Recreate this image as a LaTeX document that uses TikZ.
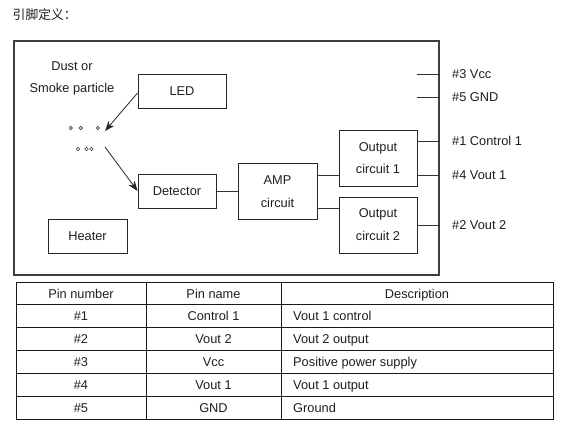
\documentclass[tikz,border=0pt]{standalone}
\usepackage{fontspec}
\setmainfont{Liberation Sans}
\newfontfamily\cjk{Noto Sans CJK SC}
\usetikzlibrary{arrows.meta}
\begin{document}
\begin{tikzpicture}[x=1pt,y=-1pt,
  every node/.style={font=\fontsize{12.8}{22}\selectfont, text=black!88},
  blk/.style={draw=black!85, line width=0.9pt, rectangle, inner sep=0pt, align=center},
  wire/.style={draw=black!80, line width=0.9pt},
  arr/.style={draw=black!85, line width=0.8pt, -{Stealth[length=10pt,width=7.5pt,inset=3pt]}},
  dot/.style={draw=black!80, line width=0.6pt},
  pinlbl/.style={anchor=west, inner sep=0pt, text height=9.2pt, text depth=0pt},
  grid/.style={draw=black!90, line width=0.9pt},
  cell/.style={inner sep=0pt, text height=9.2pt, text depth=0pt}]
\useasboundingbox (0,0) rectangle (584,435);
\fill[white] (0,0) rectangle (584,435);

% title
\node[anchor=west, inner sep=0pt, font=\cjk\fontsize{12.8}{14}\selectfont] (title) at (12.5,15) {引脚定义：};

% main box
\node[draw=black!75, line width=1.1pt, rectangle, inner sep=0pt, minimum width=425pt, minimum height=234pt] (main) at (226.5,158) {};

% labels
\node[cell] (dust) at (72,66) {Dust or};
\node[cell] (smoke) at (72,88) {Smoke particle};

% blocks
\node[blk, minimum width=88pt, minimum height=34pt] (LED) at (182,91) {LED};
\node[blk, minimum width=78pt, minimum height=34pt] (det) at (177,191) {Detector};
\node[blk, minimum width=79pt, minimum height=56pt, font=\fontsize{12.8}{23}\selectfont] (amp) at (277.5,191.5) {AMP\\circuit};
\node[blk, minimum width=78pt, minimum height=56pt, font=\fontsize{12.8}{22}\selectfont] (oc1) at (378,158) {Output\\circuit 1};
\node[blk, minimum width=78pt, minimum height=56pt, font=\fontsize{12.8}{23}\selectfont] (oc2) at (378,225) {Output\\circuit 2};
\node[blk, minimum width=79pt, minimum height=34pt] (heater) at (87.5,236) {Heater};

% particles
\foreach \x/\y in {70.7/128, 80.7/128, 97.7/128, 78/149, 86.5/149, 91.5/149}
  \draw[dot] (\x,\y) circle (1.7pt);

% arrows
\coordinate (d1) at (105,131);
\coordinate (d2) at (105,147);
\draw[arr] (LED.west |- 0,93) -- (d1);
\draw[arr] (d2) -- (det.west);

% pin points on the box edge
\coordinate (p3) at (439,74);
\coordinate (p5) at (439,97);
\coordinate (p1) at (439,141);
\coordinate (p4) at (439,175);
\coordinate (p2) at (439,225);

% wires
\draw[wire] (det.east) -- (amp.west |- det.east);
\draw[wire] (amp.east |- p4) -- (oc1.west |- p4);
\draw[wire] (amp.east |- 0,208) -- (oc2.west |- 0,208);
\draw[wire] (oc1.east |- p3) -- (p3);
\draw[wire] (oc1.east |- p5) -- (p5);
\draw[wire] (oc1.east |- p1) -- (p1);
\draw[wire] (oc1.east |- p4) -- (p4);
\draw[wire] (oc2.east |- p2) -- (p2);

% pin labels
\node[pinlbl] (l3) at (452,74) {\#3 Vcc};
\node[pinlbl] (l5) at (452,97) {\#5 GND};
\node[pinlbl] (l1) at (452,141) {\#1 Control 1};
\node[pinlbl] (l4) at (452,175) {\#4 Vout 1};
\node[pinlbl] (l2) at (452,225) {\#2 Vout 2};

% table
\draw[grid] (16,282) rectangle (553,419);
\foreach \y in {304.7,327.3,350.3,373.3,396.3}
  \draw[grid] (16,\y) -- (553,\y);
\draw[grid] (146,282) -- (146,419);
\draw[grid] (281,282) -- (281,419);

\node[cell] (h1) at (81,293.5) {Pin number};
\node[cell] (h2) at (213.5,293.5) {Pin name};
\node[cell] (h3) at (417,293.5) {Description};

\node[cell] (n1) at (81,316) {\#1};
\node[cell] (n2) at (81,339) {\#2};
\node[cell] (n3) at (81,362) {\#3};
\node[cell] (n4) at (81,385) {\#4};
\node[cell] (n5) at (81,408) {\#5};

\node[cell] (m1) at (213.5,316) {Control 1};
\node[cell] (m2) at (213.5,339) {Vout 2};
\node[cell] (m3) at (213.5,362) {Vcc};
\node[cell] (m4) at (213.5,385) {Vout 1};
\node[cell] (m5) at (213.5,408) {GND};

\node[cell, anchor=west] (e1) at (293,316) {Vout 1 control};
\node[cell, anchor=west] (e2) at (293,339) {Vout 2 output};
\node[cell, anchor=west] (e3) at (293,362) {Positive power supply};
\node[cell, anchor=west] (e4) at (293,385) {Vout 1 output};
\node[cell, anchor=west] (e5) at (293,408) {Ground};
\end{tikzpicture}
\end{document}
